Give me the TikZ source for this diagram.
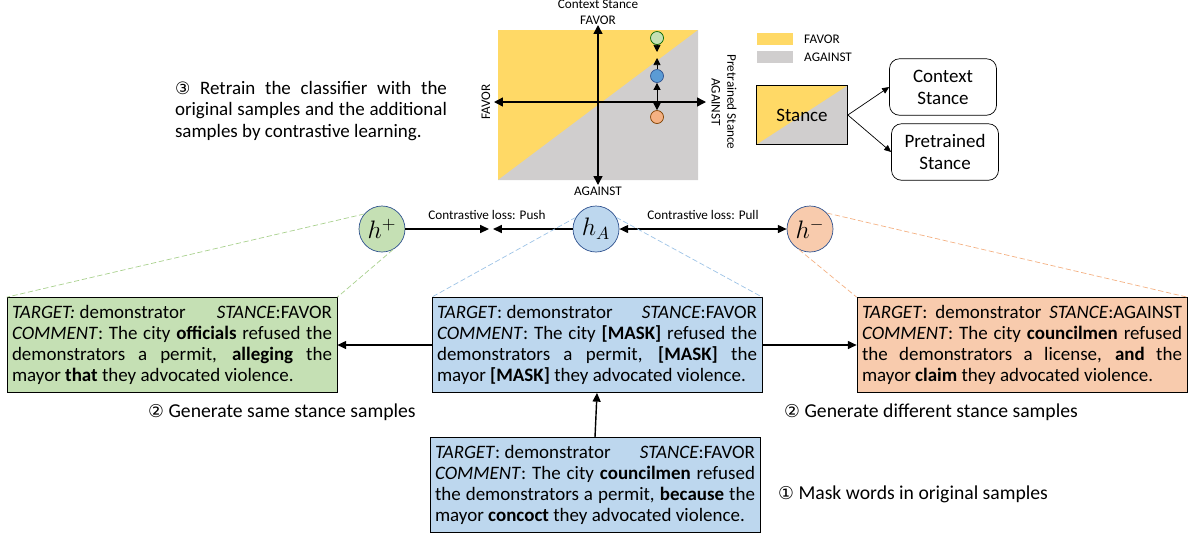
\documentclass[tikz,border=0pt]{standalone}
\usepackage{fontspec}
\setmainfont{Carlito}
\newfontfamily\circfont[Scale=0.9]{DejaVu Sans}
\usetikzlibrary{arrows.meta}

\definecolor{favoryellow}{HTML}{FFD966}
\definecolor{againstgray}{HTML}{D0CECE}
\definecolor{posgreen}{HTML}{C5E0B4}
\definecolor{anchorblue}{HTML}{BDD7EE}
\definecolor{negorange}{HTML}{F8CBAD}
\definecolor{circleedge}{HTML}{2F528F}
\definecolor{dotblue}{HTML}{5B9BD5}
\definecolor{dotorange}{HTML}{F4B183}
\definecolor{greenline}{HTML}{A9D18E}
\definecolor{blueline}{HTML}{9DC3E6}
\definecolor{orangeline}{HTML}{F4B183}

\newcommand{\stepmark}[1]{{\circfont #1}}

\tikzset{
  sample/.style={draw, rectangle, text width=6.4cm, inner xsep=0.1cm, inner ysep=0.08cm,
    minimum height=1.9cm, align=justify, font=\fontsize{10.8}{12}\selectfont},
  hnode/.style={draw=circleedge, circle, minimum size=0.92cm, inner sep=0pt, font=\Large},
  dot/.style={circle, minimum size=0.26cm, inner sep=0pt},
  axis/.style={thick, {Triangle[length=5pt,width=5pt]}-{Triangle[length=5pt,width=5pt]}},
  link/.style={thick, -{Triangle[length=5pt,width=4.5pt]}},
  small/.style={font=\fontsize{7.5}{9}\selectfont},
  steptext/.style={anchor=west, font=\fontsize{11.2}{12}\selectfont},
  view/.style={draw, rectangle, rounded corners=0.2cm, minimum width=2.14cm, minimum height=1.13cm,
    align=center, font=\fontsize{10.8}{12.5}\selectfont},
  lens/.style={thin, dash pattern=on 3pt off 1.5pt}
}

\begin{document}
\begin{tikzpicture}[x=0.02cm, y=-0.02cm]
        \useasboundingbox (0,0) rectangle (1192,539);

        % Stance plane
        \fill[favoryellow] (498,30) rectangle (698,180);
        \fill[againstgray] (498,180) -- (698,180) -- (698,30) -- cycle;
        \coordinate (xleft) at (494,102);
        \coordinate (xright) at (706,102);
        \coordinate (ytop) at (598,25);
        \coordinate (ybottom) at (598,185);
        \draw[axis] (xleft) -- (xright);
        \draw[axis] (ytop) -- (ybottom);
        \node[small, align=center, inner sep=0pt] (ctxlab) at (598,12) {Context Stance\\FAVOR};
        \node[small, inner sep=0pt] (againstlab) at (598,191) {AGAINST};
        \node[small, inner sep=0pt, rotate=90] (favorlab) at (486,102) {FAVOR};
        \node[small, align=center, inner sep=0pt, rotate=-90] (prelab) at (724,102) {Pretrained Stance\\AGAINST};

        % Samples in the plane
        \node[dot, draw=black!60!green, fill=posgreen] (pg) at (657,38) {};
        \node[dot, draw=circleedge, fill=dotblue] (pb) at (657,76) {};
        \node[dot, draw=black!50!orange, fill=dotorange] (po) at (657,117) {};
        \coordinate (gbup) at (657,52);
        \coordinate (gbdown) at (657,58);
        \draw[thin, -{Triangle[length=4pt,width=4pt]}] (pg) -- (gbup);
        \draw[thin, -{Triangle[length=4pt,width=4pt]}] (pb) -- (gbdown);
        \draw[thin, {Triangle[length=4pt,width=4pt]}-{Triangle[length=4pt,width=4pt]}] (pb) -- (po);

        % Legend
        \node[fill=favoryellow, minimum width=0.72cm, minimum height=0.24cm, inner sep=0pt] (legfavor) at (775,39) {};
        \node[fill=againstgray, minimum width=0.72cm, minimum height=0.24cm, inner sep=0pt] (legagainst) at (775,57) {};
        \node[small, anchor=west] (legfavortxt) at (798,39) {FAVOR};
        \node[small, anchor=west] (legagainsttxt) at (798,57) {AGAINST};

        % Stance split
        \node[draw, rectangle, minimum width=1.82cm, minimum height=1.18cm, font=\fontsize{10.8}{12}\selectfont,
          path picture={
            \fill[againstgray] (path picture bounding box.south west) rectangle (path picture bounding box.north east);
            \fill[favoryellow] (path picture bounding box.south west) -- (path picture bounding box.north east)
              -- (path picture bounding box.north west) -- cycle;}] (stance) at (802,115) {Stance};
        \node[view] (ctxstance) at (943,87) {Context\\Stance};
        \node[view] (prestance) at (945,152) {Pretrained\\Stance};
        \draw[thin, -{Triangle[length=4pt,width=3.5pt]}] (stance.east) -- (ctxstance.west);
        \draw[thin, -{Triangle[length=4pt,width=3.5pt]}] (stance.east) -- (prestance.west);

        % Step 3
        \node[text width=5.44cm, align=justify, inner sep=0pt, font=\fontsize{10.8}{12}\selectfont] (retrain) at (311,111)
          {\stepmark{③} Retrain the classifier with the\linebreak
           original samples and the additional\linebreak
           samples by contrastive learning.};

        % Representations
        \node[hnode, fill=posgreen] (hpos) at (382,229) {$h^{+}$};
        \node[hnode, fill=anchorblue] (hanc) at (596,229) {$h_{A}$};
        \node[hnode, fill=negorange] (hneg) at (810,229) {$h^{-}$};
        \coordinate (pushright) at (489,229);
        \coordinate (pushleft) at (493,229);
        \draw[link] (hpos) -- (pushright);
        \draw[link] (hanc) -- (pushleft);
        \draw[thick, {Triangle[length=5pt,width=4.5pt]}-{Triangle[length=5pt,width=4.5pt]}] (hanc) -- (hneg);
        \node[small] (pushlab) at (487,215) {Contrastive loss: Push};
        \node[small] (pulllab) at (703,215) {Contrastive loss: Pull};

        % Draw boxes
        \node[sample, fill=posgreen] (same) at (172,345)
          {\textit{TARGET:} demonstrator\hfill\textit{STANCE}:FAVOR\linebreak
           \textit{COMMENT}: The city \textbf{officials} refused the\linebreak
           demonstrators a permit, \textbf{alleging} the\linebreak
           mayor \textbf{that} they advocated violence.};
        \node[sample, fill=anchorblue] (masked) at (597,345)
          {\textit{TARGET}: demonstrator\hfill\textit{STANCE}:FAVOR\linebreak
           \textit{COMMENT}: The city \textbf{[MASK]} refused the\linebreak
           demonstrators a permit, \textbf{[MASK]} the\linebreak
           mayor \textbf{[MASK]} they advocated violence.};
        \node[sample, fill=negorange] (diff) at (1022,345)
          {\textit{TARGET}: demonstrator \textit{STANCE}:AGAINST\linebreak
           \textit{COMMENT}: The city \textbf{councilmen} refused\linebreak
           the demonstrators a license, \textbf{and} the\linebreak
           mayor \textbf{claim} they advocated violence.};
        \node[sample, fill=anchorblue] (orig) at (595,485)
          {\textit{TARGET}: demonstrator\hfill\textit{STANCE}:FAVOR\linebreak
           \textit{COMMENT}: The city \textbf{councilmen} refused\linebreak
           the demonstrators a permit, \textbf{because} the\linebreak
           mayor \textbf{concoct} they advocated violence.};

        % Draw arrows
        \draw[link] (masked.west) -- (same.east);
        \draw[link] (masked.east) -- (diff.west);
        \draw[link] (orig.north) -- (masked.south);

        % Projection lines
        \draw[lens, greenline] (hpos.140) -- (same.north west);
        \draw[lens, greenline] (hpos.-62) -- (same.north east);
        \draw[lens, blueline] (hanc.150) -- (masked.north west);
        \draw[lens, blueline] (hanc.30) -- (masked.north east);
        \draw[lens, orangeline] (hneg.43) -- (diff.north east);
        \draw[lens, orangeline] (hneg.-118) -- (diff.north west);

        % Steps
        \node[steptext] (samestep) at (142,412) {\stepmark{②} Generate same stance samples};
        \node[steptext] (diffstep) at (778,412) {\stepmark{②} Generate different stance samples};
        \node[steptext] (maskstep) at (772,494) {\stepmark{①} Mask words in original samples};
    \end{tikzpicture}
\end{document}
